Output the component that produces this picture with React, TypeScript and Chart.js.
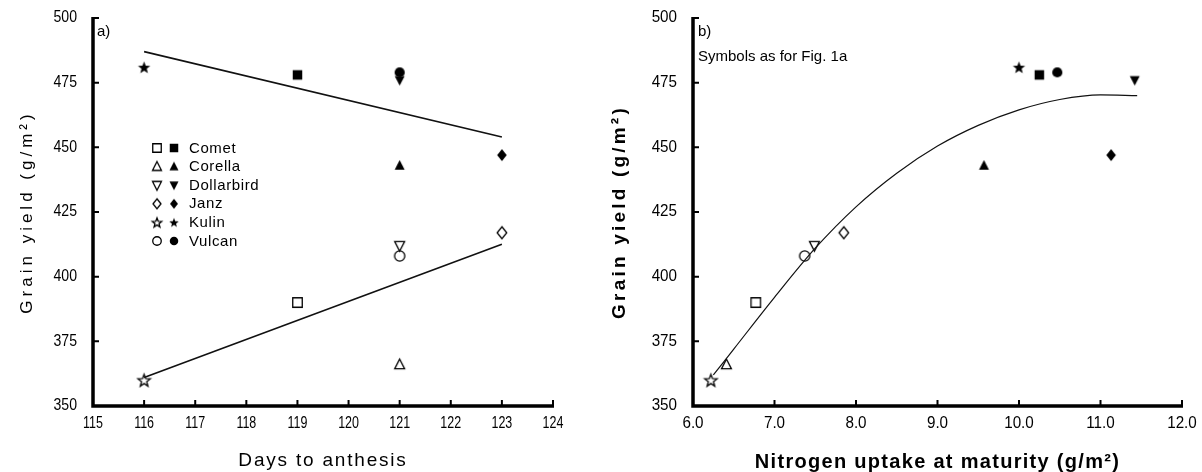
import React, { useEffect, useRef } from 'react';
import { Chart, registerables } from 'chart.js';

Chart.register(...registerables);

// ---------- data ----------
const cultivars = ['Comet', 'Corella', 'Dollarbird', 'Janz', 'Kulin', 'Vulcan'];
const symbolKinds = ['square', 'triangle', 'triangleDown', 'diamond', 'star', 'circle'];

const yieldOpen = [390, 366, 412, 417, 360, 408];
const yieldFilled = [478, 443, 476, 447, 481, 479];

const daysOpen = [119, 121, 121, 123, 116, 121];
const daysFilled = [119, 121, 121, 123, 116, 121];

const nUptakeOpen = [6.77, 6.41, 7.49, 7.85, 6.22, 7.37];
const nUptakeFilled = [10.25, 9.57, 11.42, 11.13, 10.0, 10.47];

const fitFilledDays = [116, 123];
const fitFilledYield = [487, 454];
const fitOpenDays = [116, 123];
const fitOpenYield = [361, 412.5];

const curveN = [6.25, 6.5, 7.0, 7.5, 8.0, 8.5, 9.0, 9.5, 10.0, 10.5, 11.0, 11.45];
const curveYield = [362, 372, 392, 411, 427, 440, 450.5, 458.5, 464.5, 468.5, 470.3, 470];

const yieldTicks = [350, 375, 400, 425, 450, 475, 500];
const daysTicks = [115, 116, 117, 118, 119, 120, 121, 122, 123, 124];
const nTicks = [6, 7, 8, 9, 10, 11, 12];

const yTitleText = 'Grain yield (g/m²)';
const xTitleLeft = 'Days to anthesis';
const xTitleRight = 'Nitrogen uptake at maturity (g/m²)';
const panelLabelA = 'a)';
const panelLabelB = 'b)';
const noteB = 'Symbols as for Fig. 1a';

const FONT = '"Liberation Sans", Arial, sans-serif';

// ---------- helpers ----------
type TextOpts = {
  size: number;
  bold?: boolean;
  sx?: number;
  spacing?: number;
  align?: CanvasTextAlign;
  rot?: number;
};

function drawText(ctx: CanvasRenderingContext2D, text: string, x: number, y: number, o: TextOpts) {
  ctx.save();
  ctx.translate(x, y);
  if (o.rot) ctx.rotate(o.rot);
  ctx.scale(o.sx ?? 1, 1);
  ctx.font = `${o.bold ? 'bold ' : ''}${o.size}px ${FONT}`;
  (ctx as any).letterSpacing = `${o.spacing ?? 0}px`;
  ctx.textAlign = o.align ?? 'left';
  ctx.textBaseline = 'middle';
  ctx.fillStyle = '#000';
  ctx.fillText(text, 0, 0);
  ctx.restore();
}

function makeSymbol(kind: string, filled: boolean, size: number): HTMLCanvasElement {
  const pad = 2;
  const w = Math.ceil(size + pad * 2);
  const c = document.createElement('canvas');
  c.width = w;
  c.height = w;
  const ctx = c.getContext('2d') as CanvasRenderingContext2D;
  const m = w / 2;
  const r = size / 2;
  ctx.beginPath();
  if (kind === 'square') {
    ctx.rect(m - r + 0.75, m - r + 0.75, size - 1.5, size - 1.5);
  } else if (kind === 'triangle') {
    ctx.moveTo(m, m - r);
    ctx.lineTo(m + r * 0.9, m + r * 0.75);
    ctx.lineTo(m - r * 0.9, m + r * 0.75);
    ctx.closePath();
  } else if (kind === 'triangleDown') {
    ctx.moveTo(m, m + r);
    ctx.lineTo(m + r * 0.9, m - r * 0.75);
    ctx.lineTo(m - r * 0.9, m - r * 0.75);
    ctx.closePath();
  } else if (kind === 'diamond') {
    ctx.moveTo(m, m - r);
    ctx.lineTo(m + r * 0.8, m);
    ctx.lineTo(m, m + r);
    ctx.lineTo(m - r * 0.8, m);
    ctx.closePath();
  } else if (kind === 'star') {
    for (let k = 0; k < 10; k++) {
      const rr = k % 2 === 0 ? r : r * 0.42;
      const a = -Math.PI / 2 + (k * Math.PI) / 5;
      const px = m + rr * Math.cos(a);
      const py = m + rr * Math.sin(a) + r * 0.1;
      if (k === 0) ctx.moveTo(px, py);
      else ctx.lineTo(px, py);
    }
    ctx.closePath();
  } else {
    ctx.arc(m, m, r * 0.85, 0, Math.PI * 2);
  }
  if (filled) {
    ctx.fillStyle = '#000';
    ctx.fill();
  } else {
    ctx.lineWidth = 1.3;
    ctx.strokeStyle = '#000';
    ctx.stroke();
  }
  return c;
}

const plotSizes: Record<string, number> = {
  square: 11,
  triangle: 11,
  triangleDown: 11,
  diamond: 12,
  star: 13,
  circle: 12,
};

type AxisSpec = {
  yTick: TextOpts;
  xTick: TextOpts;
  xDecimals: number;
  yTitle: TextOpts & { text: string; x: number };
  xTitle: TextOpts & { text: string; y: number };
  notes: { text: string; dx: number; y: number }[];
};

function makeAxesPlugin(spec: AxisSpec) {
  return {
    id: 'inwardAxes',
    afterDraw(chart: any) {
      const { ctx, chartArea: a, scales } = chart;
      const xs = scales.x;
      const ys = scales.y;
      ctx.save();
      ctx.strokeStyle = '#000';
      ctx.lineWidth = 3.5;
      ctx.beginPath();
      ctx.moveTo(a.left, a.top - 1);
      ctx.lineTo(a.left, a.bottom);
      ctx.lineTo(a.right + 1, a.bottom);
      ctx.stroke();
      ctx.lineWidth = 2;
      ctx.beginPath();
      ys.ticks.forEach((t: any) => {
        const y = ys.getPixelForValue(t.value);
        ctx.moveTo(a.left, y);
        ctx.lineTo(a.left + 6, y);
      });
      xs.ticks.forEach((t: any) => {
        const x = xs.getPixelForValue(t.value);
        ctx.moveTo(x, a.bottom);
        ctx.lineTo(x, a.bottom - 6);
      });
      ctx.stroke();
      ctx.restore();

      ys.ticks.forEach((t: any) => {
        drawText(ctx, String(t.value), a.left - 16, ys.getPixelForValue(t.value), {
          ...spec.yTick,
          align: 'right',
        });
      });
      xs.ticks.forEach((t: any) => {
        drawText(ctx, Number(t.value).toFixed(spec.xDecimals), xs.getPixelForValue(t.value), a.bottom + 18, {
          ...spec.xTick,
          align: 'center',
        });
      });
      drawText(ctx, spec.yTitle.text, spec.yTitle.x, (a.top + a.bottom) / 2, {
        ...spec.yTitle,
        align: 'center',
        rot: -Math.PI / 2,
      });
      drawText(ctx, spec.xTitle.text, (a.left + a.right) / 2, spec.xTitle.y, {
        ...spec.xTitle,
        align: 'center',
      });
      spec.notes.forEach((n) => drawText(ctx, n.text, a.left + n.dx, n.y, { size: 15, spacing: 0 }));
    },
  };
}

function makeLegendPlugin(openSyms: HTMLCanvasElement[], filledSyms: HTMLCanvasElement[]) {
  return {
    id: 'cultivarLegend',
    afterDraw(chart: any) {
      const ctx = chart.ctx;
      cultivars.forEach((name, i) => {
        const y = 148 + i * 18.6;
        const o = openSyms[i];
        const f = filledSyms[i];
        ctx.drawImage(o, 157 - o.width / 2, y - o.height / 2);
        ctx.drawImage(f, 174 - f.width / 2, y - f.height / 2);
        drawText(ctx, name, 189, y + 0.5, { size: 15, spacing: 0.6 });
      });
    },
  };
}

function yScale(width: number) {
  return {
    type: 'linear',
    min: 350,
    max: 500,
    afterBuildTicks: (s: any) => {
      s.ticks = yieldTicks.map((v) => ({ value: v }));
    },
    afterFit: (s: any) => {
      s.width = width;
    },
    grid: { display: false, drawTicks: false },
    border: { display: false },
    ticks: { display: false },
  };
}

function xScale(ticksArr: number[], min: number, max: number) {
  return {
    type: 'linear',
    min,
    max,
    afterBuildTicks: (s: any) => {
      s.ticks = ticksArr.map((v) => ({ value: v }));
    },
    afterFit: (s: any) => {
      s.height = 472 - 406;
    },
    grid: { display: false, drawTicks: false },
    border: { display: false },
    ticks: { display: false },
  };
}

export default function App() {
  const leftRef = useRef<HTMLCanvasElement | null>(null);
  const rightRef = useRef<HTMLCanvasElement | null>(null);

  useEffect(() => {
    const openSyms = symbolKinds.map((k) => makeSymbol(k, false, plotSizes[k]));
    const filledSyms = symbolKinds.map((k) => makeSymbol(k, true, plotSizes[k]));
    const legendOpen = symbolKinds.map((k) => makeSymbol(k, false, 10));
    const legendFilled = symbolKinds.map((k) => makeSymbol(k, true, 10));

    const pointSets = (xOpen: number[], xFilled: number[]) => {
      const sets: any[] = [];
      cultivars.forEach((name, i) => {
        sets.push({
          label: name + ' (open)',
          data: [{ x: xOpen[i], y: yieldOpen[i] }],
          pointStyle: openSyms[i],
          showLine: false,
        });
        sets.push({
          label: name + ' (filled)',
          data: [{ x: xFilled[i], y: yieldFilled[i] }],
          pointStyle: filledSyms[i],
          showLine: false,
        });
      });
      return sets;
    };

    const common = {
      responsive: true,
      maintainAspectRatio: false,
      animation: false as const,
      plugins: { legend: { display: false }, tooltip: { enabled: false } },
      events: [] as any[],
    };

    const left = new Chart(leftRef.current as HTMLCanvasElement, {
      type: 'scatter',
      data: {
        datasets: [
          {
            label: 'fit filled',
            data: fitFilledDays.map((x, i) => ({ x, y: fitFilledYield[i] })),
            showLine: true,
            borderColor: '#111',
            borderWidth: 1.6,
            pointRadius: 0,
          },
          {
            label: 'fit open',
            data: fitOpenDays.map((x, i) => ({ x, y: fitOpenYield[i] })),
            showLine: true,
            borderColor: '#111',
            borderWidth: 1.6,
            pointRadius: 0,
          },
          ...pointSets(daysOpen, daysFilled),
        ],
      },
      options: {
        ...common,
        layout: { padding: { left: 0, right: 37, top: 18, bottom: 0 } },
        scales: {
          x: xScale(daysTicks, 115, 124),
          y: yScale(93),
        },
      } as any,
      plugins: [
        makeAxesPlugin({
          yTick: { size: 16, sx: 0.88 },
          xTick: { size: 16, sx: 0.78 },
          xDecimals: 0,
          yTitle: { text: yTitleText, x: 27, size: 17, spacing: 4 },
          xTitle: { text: xTitleLeft, y: 461, size: 19, spacing: 1.8 },
          notes: [{ text: panelLabelA, dx: 4, y: 32 }],
        }),
        makeLegendPlugin(legendOpen, legendFilled),
      ],
    });

    const right = new Chart(rightRef.current as HTMLCanvasElement, {
      type: 'scatter',
      data: {
        datasets: [
          {
            label: 'fit',
            data: curveN.map((x, i) => ({ x, y: curveYield[i] })),
            showLine: true,
            borderColor: '#111',
            borderWidth: 1.2,
            pointRadius: 0,
            cubicInterpolationMode: 'monotone',
          },
          ...pointSets(nUptakeOpen, nUptakeFilled),
        ],
      },
      options: {
        ...common,
        layout: { padding: { left: 0, right: 20, top: 18, bottom: 0 } },
        scales: {
          x: xScale(nTicks, 6, 12),
          y: yScale(103),
        },
      } as any,
      plugins: [
        makeAxesPlugin({
          yTick: { size: 16, sx: 0.95 },
          xTick: { size: 16, sx: 0.95 },
          xDecimals: 1,
          yTitle: { text: yTitleText, x: 30, size: 19, bold: true, spacing: 3.2 },
          xTitle: { text: xTitleRight, y: 462, size: 20, bold: true, spacing: 1.3 },
          notes: [
            { text: panelLabelB, dx: 5, y: 32 },
            { text: noteB, dx: 5, y: 57 },
          ],
        }),
      ],
    });

    return () => {
      left.destroy();
      right.destroy();
    };
  }, []);

  return (
    <div
      style={{
        position: 'fixed',
        left: 0,
        top: 0,
        width: 1202,
        height: 472,
        background: '#fff',
      }}
    >
      <div style={{ position: 'absolute', left: 0, top: 0, width: 590, height: 472 }}>
        <canvas ref={leftRef} />
      </div>
      <div style={{ position: 'absolute', left: 590, top: 0, width: 612, height: 472 }}>
        <canvas ref={rightRef} />
      </div>
    </div>
  );
}
